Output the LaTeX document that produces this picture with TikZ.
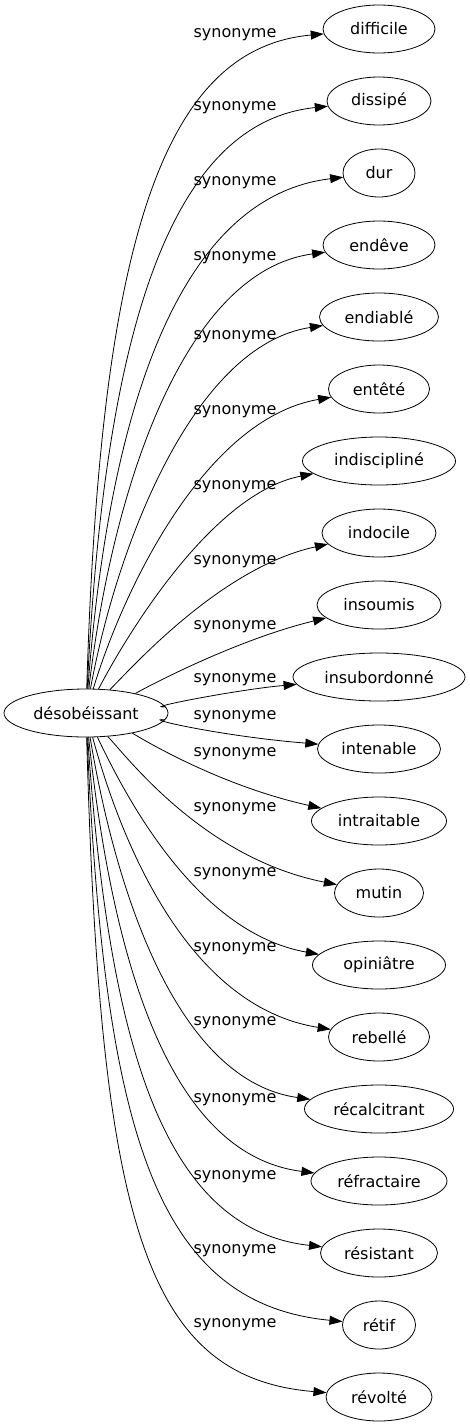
\documentclass[tikz,border=0pt]{standalone}
\usepackage{fontspec}
\setmainfont{DejaVu Sans}
\usetikzlibrary{arrows.meta,shapes.geometric}

\begin{document}
\begin{tikzpicture}[x=1pt,y=-1pt,>={Triangle[length=13pt,width=9pt]}]

% ---------- styles ----------
\tikzset{
  word/.style={draw, ellipse, line width=0.8pt, minimum height=48pt, inner sep=0pt,
    font=\fontsize{16}{19}\selectfont},
  link/.style={->, line width=0.8pt},
  rel/.style={font=\fontsize{16}{19}\selectfont}
}

\useasboundingbox (0,0) rectangle (470,1427);

% ---------- source word ----------
\node[word, minimum width=164pt] (src) at (86,713) {désobéissant};

% ---------- synonyms ----------
% name / y / width / y of edge label
\foreach \name/\ty/\wid/\ly [count=\i] in {
  difficile/29/112/35, dissipé/101/104/108, dur/173/72/183,
  endêve/245/112/258, endiablé/317/119/337, entêté/389/101/412,
  indiscipliné/461/153/487, indocile/533/114/562, insoumis/605/124/627,
  insubordonné/677/172/680, intenable/749/123/717, intraitable/821/135/754,
  mutin/893/89/809, opiniâtre/965/133/874, rebellé/1037/101/949,
  récalcitrant/1109/149/1023, réfractaire/1181/136/1100,
  résistant/1253/117/1177, rétif/1325/73/1251, révolté/1397/106/1325} {
  \node[word, minimum width=\wid pt] (s\i) at (379,\ty) {\name};
  % control points of the edge (lower ones bend a little later)
  \pgfmathsetmacro{\hgt}{abs(\ty-713)}
  \pgfmathsetmacro{\side}{(\ty>713)*2-1}
  \pgfmathsetmacro{\ax}{140.7-0.0595*\hgt}
  \pgfmathsetmacro{\ay}{713+\side*\hgt*(0.083+0.000873*\hgt)*(1+0.05*(\side+1))}
  \pgfmathsetmacro{\bx}{241.4-0.119*\hgt-7.5*(\side+1)}
  \pgfmathsetmacro{\by}{\ty-\side*min(0.35*\hgt,40-0.03*\hgt)}
  \draw[link] (src) .. controls (\ax,\ay) and (\bx,\by) .. (s\i);
  \node[rel] (l\i) at (235,\ly) {synonyme};
}

\end{tikzpicture}
\end{document}
